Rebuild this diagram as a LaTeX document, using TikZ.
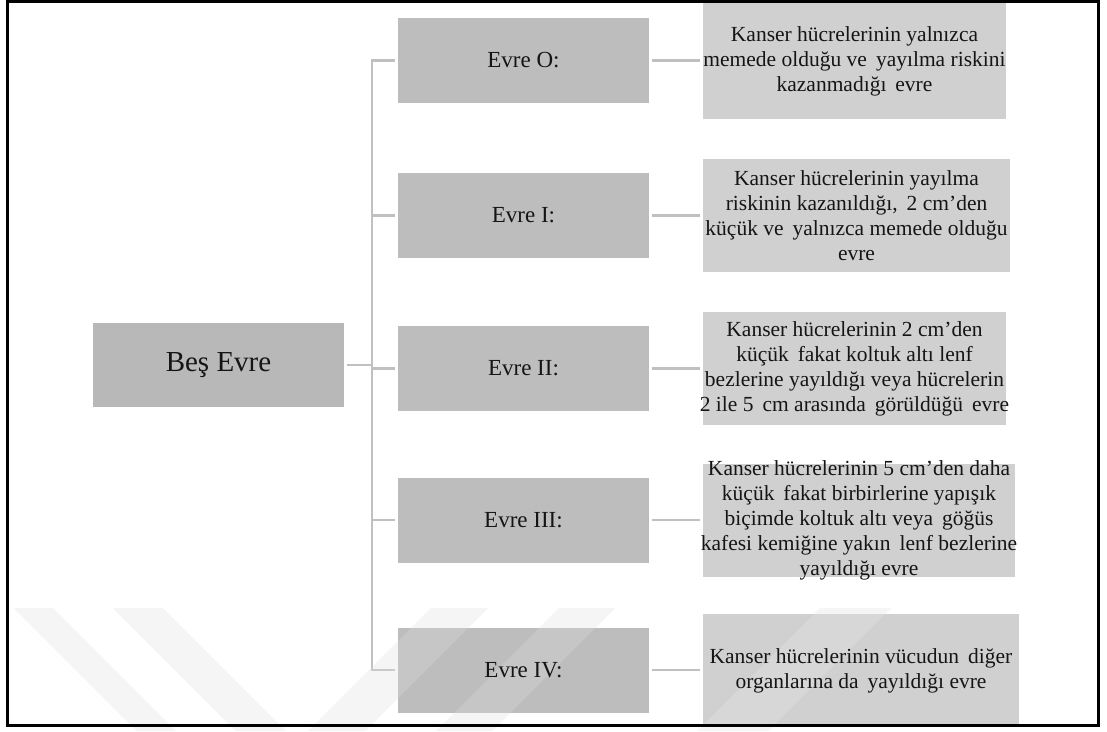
\documentclass[tikz,border=0pt]{standalone}
\usepackage{fontspec}
\setmainfont{Liberation Serif}
\definecolor{midgray}{HTML}{BDBDBD}
\definecolor{besgray}{HTML}{B8B8B8}
\definecolor{rgray}{HTML}{D0D0D0}
\definecolor{lgray}{HTML}{C0C0C0}
\definecolor{wm}{HTML}{F4F4F4}
\definecolor{txt}{HTML}{151515}
\tikzset{
  besbox/.style={fill=besgray, inner sep=0pt, minimum width=251pt, minimum height=84pt},
  midbox/.style={fill=midgray, inner sep=0pt, minimum width=251pt, minimum height=85pt},
  descbox/.style={fill=rgray, inner sep=0pt, minimum height=113pt},
  bestext/.style={inner sep=0pt, font=\fontsize{29}{34}\selectfont, text=txt},
  midtext/.style={inner sep=0pt, font=\fontsize{23}{27}\selectfont, text=txt},
  desctext/.style={inner sep=0pt, align=center, font=\fontsize{21.5}{25}\selectfont, text=txt},
  conn/.style={draw=lgray, line width=2.5pt},
  band/.style={fill=wm},
  bandover/.style={fill=white, opacity=0.15},
}
\begin{document}
\begin{tikzpicture}[x=1pt,y=-1pt]
\useasboundingbox (0,0) rectangle (1107,731);
\fill[white] (0,0) rectangle (1107,731);
% watermark (behind)
\foreach \a/\b/\d in {14/53/1,113/163/1,431/488/-1,559/615/-1,820/891/-1}
  \fill[band] (\a,608) -- (\b,608) -- (\b+123*\d,731) -- (\a+123*\d,731) -- cycle;

% boxes
\node[besbox] (bes) at (218.5,365) {};
\node[midbox] (m0) at (523.5,60.5) {};
\node[midbox] (m1) at (523.5,215.5) {};
\node[midbox] (m2) at (523.5,368.5) {};
\node[midbox] (m3) at (523.5,520) {};
\node[midbox] (m4) at (523.5,670) {};
\node[descbox, minimum width=303pt, minimum height=117pt] (r0) at (854.5,60.5) {};
\node[descbox, minimum width=307pt] (r1) at (856.5,215.5) {};
\node[descbox, minimum width=303pt] (r2) at (854.5,368.5) {};
\node[descbox, minimum width=312pt] (r3) at (859,520.5) {};
\node[descbox, minimum width=316pt] (r4) at (861,670.5) {};

% connectors
\coordinate (st) at (372,60.5);
\draw[conn, shorten <=3pt, shorten >=3pt] (m0.west) -| (m4.west -| st) -- (m4.west);
\foreach \m in {m1,m2,m3}
  \draw[conn, shorten <=3pt] (\m.west) -- (\m.west -| st);
\draw[conn, shorten <=3pt] (bes.east) -- (bes.east -| st);
\foreach \m/\r in {m0/r0,m1/r1,m2/r2,m3/r3,m4/r4}
  \draw[conn, shorten <=3pt, shorten >=3pt] (\m.east) -- (\m.east -| \r.west);

% watermark (over boxes)
\foreach \a/\b/\d in {14/53/1,113/163/1,431/488/-1,559/615/-1,820/891/-1}
  \fill[bandover] (\a,608) -- (\b,608) -- (\b+123*\d,731) -- (\a+123*\d,731) -- cycle;

% texts
\node[bestext] (tb) at (bes.center) {Beş Evre};
\node[midtext] (tm0) at (m0.center) {Evre O:};
\node[midtext] (tm1) at (m1.center) {Evre I:};
\node[midtext] (tm2) at (m2.center) {Evre II:};
\node[midtext] (tm3) at (m3.center) {Evre III:};
\node[midtext] (tm4) at (m4.center) {Evre IV:};
\node[desctext] (t0) at ([yshift=-1pt]r0.center) {Kanser hücrelerinin yalnızca\\memede olduğu ve\, yayılma riskini\\kazanmadığı\, evre};
\node[desctext] (t1) at (r1.center) {Kanser hücrelerinin yayılma\\riskinin kazanıldığı,\, 2 cm’den\\küçük ve\, yalnızca memede olduğu\\evre};
\node[desctext] (t2) at (r2.center) {Kanser hücrelerinin 2 cm’den\\küçük\, fakat koltuk altı lenf\\bezlerine yayıldığı veya hücrelerin\\2 ile 5\, cm arasında\, görüldüğü\, evre};
\node[desctext] (t3) at (r3.center) {Kanser hücrelerinin 5 cm’den daha\\küçük\, fakat birbirlerine yapışık\\biçimde koltuk altı veya\, göğüs\\kafesi kemiğine yakın\, lenf bezlerine\\yayıldığı evre};
\node[desctext] (t4) at (r4.center) {Kanser hücrelerinin vücudun\, diğer\\organlarına da\, yayıldığı evre};

% frame
\draw[line width=3pt] (7,1) rectangle (1098,725);
\end{tikzpicture}
\end{document}
